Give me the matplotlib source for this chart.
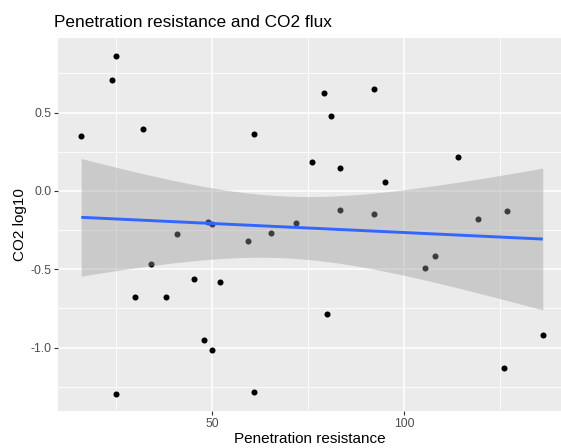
"""Scatter of CO2 flux (log10) against penetration resistance with a linear fit."""

import matplotlib

matplotlib.use("Agg")

import matplotlib.pyplot as plt
import numpy as np
from matplotlib.ticker import MultipleLocator

plt.rcParams["font.family"] = ["Liberation Sans", "DejaVu Sans"]

penetration = [
    16.0, 24.0, 25.0, 32.0, 61.0, 49.0, 50.0,
    79.0, 92.0, 80.9, 76.0, 83.4, 95.1, 114.0, 83.4, 92.0, 119.1, 126.7, 71.9,
    41.0, 59.3, 65.3, 34.1, 45.3, 52.0, 30.0, 38.0, 48.0, 50.0, 25.0, 61.0,
    105.3, 108.0, 80.0, 136.0, 126.0,
]
co2_log10 = [
    0.351, 0.710, 0.863, 0.398, 0.366, -0.200, -0.213,
    0.625, 0.653, 0.477, 0.183, 0.147, 0.057, 0.217, -0.123, -0.145, -0.179, -0.128, -0.202,
    -0.274, -0.317, -0.268, -0.468, -0.562, -0.581, -0.676, -0.676, -0.953, -1.015, -1.298, -1.281,
    -0.491, -0.415, -0.783, -0.919, -1.132,
]

# Student t quantile (0.975, df = n - 2 = 34) for the 95% band
T_QUANTILE = 2.032

PANEL_BG = "#EBEBEB"


def linear_fit_band(x, y, n_grid=80):
    x = np.asarray(x, dtype=float)
    y = np.asarray(y, dtype=float)
    slope, intercept = np.polyfit(x, y, 1)
    resid = y - (intercept + slope * x)
    n = len(x)
    sigma = np.sqrt(np.sum(resid ** 2) / (n - 2))
    sxx = np.sum((x - x.mean()) ** 2)
    grid = np.linspace(x.min(), x.max(), n_grid)
    fit = intercept + slope * grid
    se = sigma * np.sqrt(1.0 / n + (grid - x.mean()) ** 2 / sxx)
    return grid, fit, fit - T_QUANTILE * se, fit + T_QUANTILE * se


fig = plt.figure(figsize=(5.61, 4.48), dpi=100)
ax = fig.add_axes([58.3 / 561, 1 - 411 / 448, 1 - 58.3 / 561, (411 - 38.3) / 448])
ax.set_facecolor(PANEL_BG)
for spine in ax.spines.values():
    spine.set_visible(False)

ax.scatter(penetration, co2_log10, s=19, color="black", linewidths=0, zorder=3)

# band drawn over the points, as the smoother layer sits on top
grid, fit, lower, upper = linear_fit_band(penetration, co2_log10)
ax.fill_between(grid, lower, upper, color="#999999", alpha=0.4, linewidth=0, zorder=4)
ax.plot(grid, fit, color="#3366FF", linewidth=2.1, zorder=5, solid_capstyle="butt")

ax.set_xlim(10.04, 140.74)
ax.set_ylim(-1.404, 0.974)
ax.xaxis.set_major_locator(MultipleLocator(50))
ax.xaxis.set_minor_locator(MultipleLocator(25))
ax.yaxis.set_major_locator(MultipleLocator(0.5))
ax.yaxis.set_minor_locator(MultipleLocator(0.25))
ax.yaxis.set_major_formatter(lambda v, _: f"{v:.1f}")

ax.grid(which="major", color="white", linewidth=1.1, zorder=0)
ax.grid(which="minor", color="white", linewidth=0.55, zorder=0)
ax.set_axisbelow(True)

ax.tick_params(which="major", length=2.75, width=0.8, color="#333333",
               labelcolor="#4D4D4D", labelsize=8.7, pad=2)
ax.tick_params(which="minor", length=0)

ax.set_xlabel("Penetration resistance", fontsize=11, color="black", labelpad=2)
ax.set_ylabel("CO2 log10", fontsize=11, color="black", labelpad=3)

fig.text(54 / 561, 1 - 26.7 / 448, "Penetration resistance and CO2 flux",
         fontsize=12.4, color="black", ha="left", va="baseline")

fig.savefig("out.png", dpi=100)
